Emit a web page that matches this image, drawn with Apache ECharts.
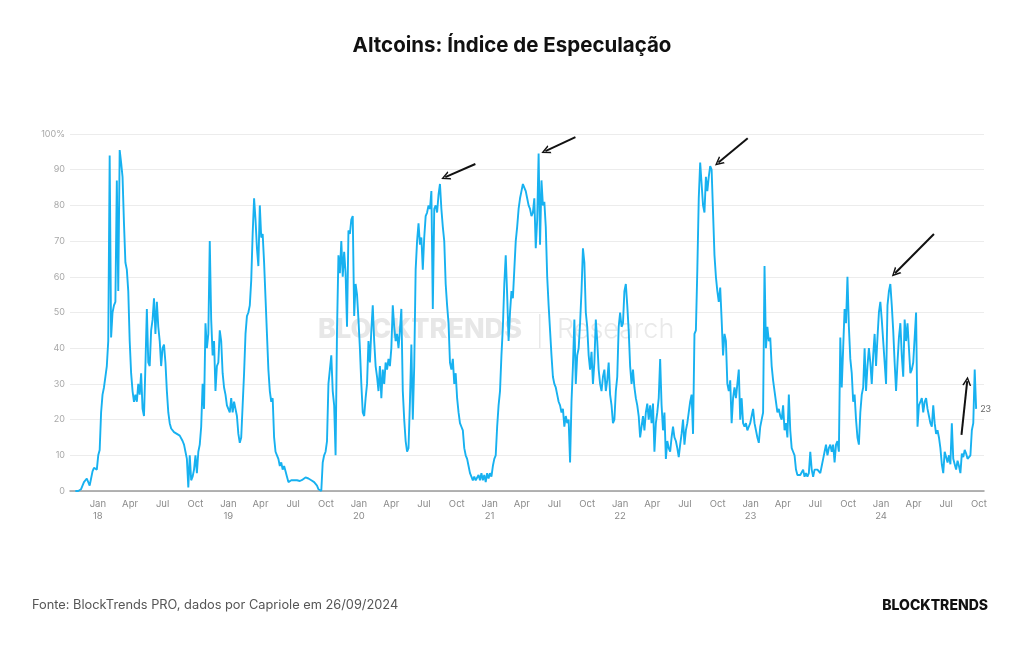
<!DOCTYPE html>
<html><head><meta charset="utf-8">
<script src="https://cdn.jsdelivr.net/npm/echarts@6/dist/echarts.min.js"></script>
<style>html,body{margin:0;padding:0;background:#fff}#c{width:1024px;height:645px}</style>
</head><body><div id="c"></div>
<script>
// ---- data ----
const axisStart = '2017-10-15';
const axisEnd = '2024-10-15';
const seriesStart = '2017-10-30';
const stepDays = 4;

const v2017 = [0,0,0,0,0.5,1.5,2.5,3,3.5,3,1.5,3.5,5.5,6.5,7,6];
const v2018 = [10,11.5,22,27,29,32,35,42,94,43,
  50,52,53,87,56,95.5,92,88,75,64,
  62,56,42,33,28,25,27,25,30,27,
  33,23,21,35,51,36,35,45,48,54,
  44,53,46,42,35,40,41,36,28,22,
  19,17.5,17,16.5,16.5,16,15.5,15.5,15,14,
  13,11,9,1,10,3,4,6,10,5,
  11,13,18,30,23,47,40,44,70,48,
  38,42,28,35,36,45,42,33,29,27,
  24];
const v2019 = [23,22,26,22,25,23,21,16,13.5,15,
  24,33,44,49,50,52,59,72,82,76,
  68,63,80,71,72,64,54,44,34,28,
  25,26,15,11,10,9,7,8,6,7,
  5.5,4,2.5,2,3,2.5,3,2.5,3,3,
  2.8,3,3.2,3.5,3.8,3.6,3.5,3.2,3,3,
  2.5,2,1.5,0.5,0,0,8,10,11,14,
  30,34,38,28,24,10,45,66,61,70,
  60,67,61,46,73,72,76,77,49,58,
  55];
const v2020 = [48,40,30,22,21,26,30,42,36,45,
  52,42,35,32,28,35,26,34,30,36,
  34,37,35,40,52,46,42,44,40,45,
  51,28,20,14,11,12,25,41,20,35,
  62,70,75,69,71,62,71,77,78,80,
  79,84,51,79,80,78,83,86,79,74,
  70,58,52,47,36,34,37,30,33,26,
  22,19,18,17,12,10,9,7,5,4,
  3,4,3,2.5,4.5,3,5,3,4.5,2.5,
  5,3.5];
const v2021 = [5,4,7,9,10,18,24,28,38,46,
  58,66,55,42,50,56,54,62,70,74,
  79,82,84,86,85,84,82,80,79,77,
  78,82,68,76,94.5,69,87,80,81,74,
  60,52,45,38,32,30,29,27,25,24,
  22,23,18,21,19,20,8,25,35,48,
  30,38,40,47,56,68,64,50,46,38,
  34,39,30,36,48,42,34,30,28,32,
  34,28,31,36,27,24,19,20,28,32,
  46];
const v2022 = [50,46,47,56,58,52,45,35,30,34,
  29,26,24,21,15,18,21,17,22,24.5,
  20,24,19,24.5,11,19,22,26,37,24,
  17,22,9,14,12,11,15,18,15,14,
  12,9.5,13,16,20,13,17,19,22,25,
  27,16,44,45,62,82,92,86,80,78,
  88,84,88,91,90,78,66,60,56,53,
  57,48,38,44,42,30,28,31,19,26,
  29,26,30,34,20,26,19,18,19,17,
  18];
const v2023 = [19,21,23,19,17,15,13.5,18,20,22,
  63,40,46,42,43,35,31,28,25,22,
  23,21,20,24,17,19,15,27,17,12,
  11,10,6,4.5,4,4.5,4,6,4,5,
  4,5,11,6,4,6,5.5,6,6,5,
  7,9,11,13,10,12,13,11,13,8,
  13,14,11,43,29,40,51,47,60,46,
  37,33,25,27,20,15,13,22,27,29,
  40,28,35,40,36,30,38,44,35,43,
  50];
const v2024 = [53,48,42,36,30,52,56,58,52,45,
  36,28,36,43,47,38,32,48,42,47,
  40,33,34,36,36,50,18,24,25,26,
  22,25,26,23,21,19,18,24,19,16,
  17,15,12,7.5,5,11,9.5,8,10,7.5,
  19,9,7.5,6,8.5,7,5,10.5,9.5,11.5,
  10.5,9,8.5,10,17,19,34,23];

const yTickValues = [0,10,20,30,40,50,60,70,80,90,100];
const quarterNames = {'01':'Jan','04':'Apr','07':'Jul','10':'Oct'};

// annotation arrows: [from [date, value], to [date, value]]
const arrows = [
  [['2020-11-22', 91.6], ['2020-08-30', 87.9]],
  [['2021-08-29', 99.1], ['2021-06-06', 95.2]],
  [['2022-12-24', 98.8], ['2022-10-03', 92.0]],
  [['2024-05-28', 72.0], ['2024-02-09', 61.0]],
  [['2024-08-13', 15.7], ['2024-08-29', 30.8]]
];

// ---- build ----
const DAY = 86400000;
const t0 = Date.parse(axisStart + 'T00:00:00Z');
const t1 = Date.parse(axisEnd + 'T00:00:00Z');
const cats = [];
for (let t = t0; t <= t1; t += DAY) cats.push(new Date(t).toISOString().slice(0, 10));
const idxOf = {};
cats.forEach((d, i) => { idxOf[d] = i; });

const values = [].concat(v2017, v2018, v2019, v2020, v2021, v2022, v2023, v2024);
const s0 = idxOf[seriesStart];
const lineData = values.map((v, i) => [s0 + stepDays * i, v]);

const chart = echarts.init(document.getElementById('c'), null, {renderer: 'canvas'});
const FONT = 'Inter, "Noto Sans", sans-serif';

chart.setOption({
  animation: false,
  backgroundColor: '#ffffff',
  title: {
    text: 'Altcoins: Índice de Especulação',
    left: 'center', top: 30,
    textStyle: {fontSize: 20.5, fontWeight: 'bold', color: '#111', fontFamily: FONT}
  },
  grid: {left: 70, right: 40, top: 134, bottom: 154},
  xAxis: {
    type: 'category',
    data: cats,
    boundaryGap: false,
    axisLine: {lineStyle: {color: '#9a9a9a', width: 1.5}},
    axisTick: {show: false},
    splitLine: {show: false},
    axisLabel: {
      interval: (i, val) => val.slice(8) === '01' && !!quarterNames[val.slice(5, 7)],
      formatter: (val) => {
        const m = val.slice(5, 7);
        return m === '01' ? 'Jan\n' + val.slice(2, 4) : quarterNames[m];
      },
      color: '#8a8a8a', fontSize: 9.5, lineHeight: 12, margin: 7, fontFamily: FONT
    }
  },
  yAxis: {
    type: 'value', min: 0, max: 100, interval: 10,
    axisLine: {show: false}, axisTick: {show: false},
    axisLabel: {
      formatter: (v) => yTickValues.indexOf(v) >= 0 ? (v === 100 ? '100%' : String(v)) : '',
      color: '#a8a8a8', fontSize: 9, margin: 5, fontFamily: FONT
    },
    splitLine: {lineStyle: {color: '#ececec', width: 1}}
  },
  graphic: [
    {type: 'text', left: 318, top: 316, z: 0, silent: true,
      style: {text: 'BLOCKTRENDS', fill: '#e7e7e7', font: '800 27px ' + FONT}},
    {type: 'rect', left: 539, top: 314, z: 0, silent: true,
      shape: {width: 1.5, height: 34}, style: {fill: '#e8e8e8'}},
    {type: 'text', left: 557, top: 316, z: 0, silent: true,
      style: {text: 'Research', fill: '#e9e9e9', font: '300 27px ' + FONT}},
    {type: 'text', left: 32, top: 599, silent: true,
      style: {text: 'Fonte: BlockTrends PRO, dados por Capriole em 26/09/2024', fill: '#555', font: '12.8px ' + FONT}},
    {type: 'text', right: 36, top: 599, silent: true,
      style: {text: 'BLOCKTRENDS', fill: '#111', font: '800 14px ' + FONT}}
  ],
  series: [{
    type: 'line',
    data: lineData,
    showSymbol: false,
    z: 3,
    lineStyle: {color: '#17b1f0', width: 1.9},
    emphasis: {disabled: true},
    endLabel: {
      show: true, distance: 4,
      formatter: (p) => String(p.value[1]),
      color: '#666', fontSize: 9, fontFamily: FONT
    },
    markLine: {
      silent: true, animation: false,
      symbol: ['none', 'path://M5,0 L10,9 L8.2,9 L5,3 L1.8,9 L0,9 Z'],
      symbolSize: [9, 9],
      lineStyle: {color: '#111', width: 2, type: 'solid'},
      label: {show: false},
      emphasis: {disabled: true},
      data: arrows.map(a => [
        {coord: [idxOf[a[0][0]], a[0][1]]},
        {coord: [idxOf[a[1][0]], a[1][1]]}
      ])
    }
  }]
});
</script>
</body></html>
